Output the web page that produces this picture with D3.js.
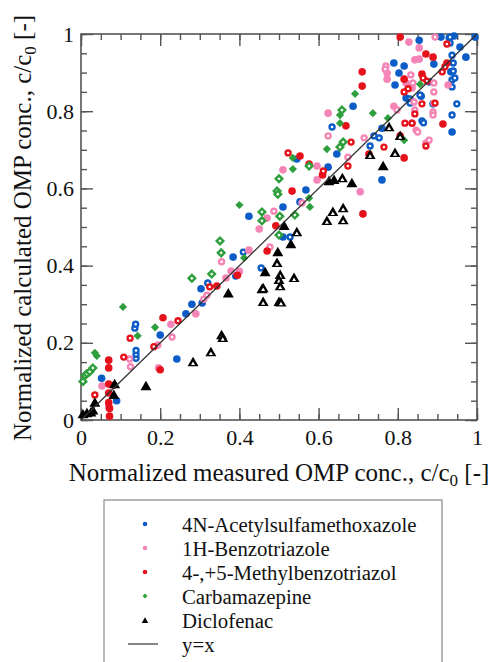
<!DOCTYPE html>
<html>
<head>
<meta charset="utf-8">
<script src="https://cdn.jsdelivr.net/npm/d3@7"></script>
<style>
body { margin: 0; background: #fff; }
svg { display: block; }
text { font-family: "Liberation Serif", "Times New Roman", Times, "Nimbus Roman", "DejaVu Serif", serif; fill: #111; }
</style>
</head>
<body>
<svg width="492" height="662"></svg>
<script>
/* global d3 */

// series names and colours
var seriesNames = ['4N-Acetylsulfamethoxazole', '1H-Benzotriazole', '4-,+5-Methylbenzotriazol', 'Carbamazepine', 'Diclofenac']
var seriesColors = ['#0b5cc6', '#f585b6', '#e5121b', '#2f9e3c', '#000000']
var tickValues = [0, 0.2, 0.4, 0.6, 0.8, 1]

// [measured, calculated, hollow]
var acetyl = [
	[.052,.108,0],[.09,.05,0],[.2,.22,0],[.242,.158,0],[.265,.275,0],[.28,.3,0],[.306,.303,0],[.303,.34,0],
	[.384,.422,0],[.391,.373,0],[.424,.528,0],[.51,.552,0],[.51,.474,0],[.553,.565,0],[.568,.596,0],[.624,.655,0],
	[.545,.676,0],[.646,.689,0],[.687,.813,0],[.76,.622,0],[.76,.756,0],[.79,.925,0],[.816,.917,0],[.803,.899,0],
	[.793,.868,0],[.821,.834,0],[.859,.839,0],[.879,.876,0],[.889,.819,0],[.891,.922,0],[.854,.984,0],[.909,.992,0],
	[.93,.99,0],[.942,.995,0],[.957,.966,0],[.972,.94,0],[.934,.902,0],[.937,.746,0],[.995,.992,0],
	[.136,.238,1],[.138,.248,1],[.139,.16,1],[.139,.17,1],[.139,.18,1],[.32,.355,1],[.41,.435,1],[.455,.394,1],
	[.528,.474,1],[.634,.759,1],[.73,.71,1],[.74,.736,1],[.753,.731,1],[.831,.832,1],[.831,.821,1],[.856,.842,1],
	[.861,.775,1],[.865,.77,1],[.932,.992,1],[.932,.977,1],[.937,.945,1],[.94,.925,1],[.94,.904,1],[.937,.881,1],
	[.944,.886,1],[.937,.863,1],[.949,.819,1],[.937,.79,1]
]

var benzotriazole = [
	[.053,.088,0],[.07,.035,0],[.194,.194,0],[.196,.135,0],[.227,.248,0],[.29,.275,0],[.366,.368,0],[.379,.386,0],
	[.4,.385,0],[.424,.44,0],[.45,.495,0],[.47,.523,0],[.51,.648,0],[.596,.658,0],[.596,.622,0],[.624,.795,0],
	[.705,.591,0],[.773,.899,0],[.79,.813,0],[.773,.883,0],[.821,.873,0],[.836,.769,0],[.836,.86,0],[.843,.933,0],
	[.854,.964,0],[.854,.935,0],[.828,.979,0],[.927,.868,0],
	[.123,.158,1],[.125,.138,1],[.23,.215,1],[.318,.323,1],[.31,.313,1],[.355,.41,1],[.477,.448,1],[.487,.541,1],
	[.558,.562,1],[.624,.736,1],[.674,.681,1],[.715,.731,1],[.77,.917,1],[.768,.909,1],[.798,.803,1],[.833,.894,1],
	[.838,.873,1],[.841,.824,1],[.843,.803,1],[.846,.751,1],[.85,.746,1],[.871,.718,1],[.879,.725,1],[.889,.798,1],
	[.889,.79,1],[.891,.873,1],[.891,.85,1],[.891,.821,1],[.894,.992,1]
]

var methylbenzotriazol = [
	[.07,.155,0],[.07,.135,0],[.07,.093,0],[.07,.07,0],[.07,.045,0],[.072,.03,0],[.072,.01,0],[.083,.09,0],
	[.2,.13,0],[.207,.265,0],[.343,.347,0],[.395,.375,0],[.47,.438,0],[.492,.503,0],[.533,.593,0],[.553,.684,0],
	[.576,.663,0],[.61,.635,0],[.669,.762,0],[.71,.902,0],[.71,.865,0],[.712,.534,0],[.727,.689,0],[.806,.736,0],
	[.816,.883,0],[.816,.679,0],[.806,.992,0],[.861,.896,0],[.871,.948,0],[.889,.94,0],[.924,.925,0],[.914,.767,0],
	[.035,.065,1],[.108,.163,1],[.124,.212,1],[.184,.19,1],[.245,.257,1],[.325,.345,1],[.523,.692,1],[.612,.645,1],
	[.674,.658,1],[.682,.72,1],[.765,.707,1],[.816,.85,1],[.826,.858,1],[.818,.769,1],[.836,.769,1],[.843,.793,1],
	[.861,.819,1],[.864,.886,1],[.874,.878,1],[.871,.71,1],[.894,.821,1],[.912,.902,1],[.919,.915,1],[.924,.974,1]
]

var carbamazepine = [
	[.035,.174,0],[.04,.166,0],[.106,.293,0],[.143,.218,0],[.187,.24,0],[.4,.557,0],[.412,.42,0],[.535,.65,0],
	[.535,.679,0],[.576,.575,0],[.578,.552,0],[.621,.702,0],[.654,.79,0],[.654,.769,0],[.692,.845,0],[.737,.795,0],
	[.775,.782,0],[.816,.725,0],[.856,.87,0],
	[.005,.1,1],[.01,.115,1],[.015,.12,1],[.022,.125,1],[.03,.135,1],[.28,.367,1],[.33,.378,1],[.351,.464,1],
	[.354,.433,1],[.457,.539,1],[.457,.516,1],[.5,.625,1],[.495,.593,1],[.497,.585,1],[.502,.528,1],[.54,.531,1],
	[.5,.479,1],[.576,.658,1],[.659,.803,1],[.662,.72,1],[.654,.707,1]
]

var diclofenac = [
	[.005,.015,0],[.015,.018,0],[.025,.02,0],[.03,.025,0],[.035,.045,0],[.085,.093,0],[.083,.065,0],[.164,.088,0],
	[.372,.328,0],[.513,.503,0],[.497,.435,0],[.53,.456,0],[.626,.619,0],[.639,.622,0],[.763,.658,0],[.684,.614,0],
	[.465,.383,0],[.457,.339,0],
	[.283,.15,1],[.328,.176,1],[.355,.22,1],[.358,.213,1],[.495,.407,1],[.503,.376,1],[.5,.363,1],[.538,.368,1],
	[.503,.347,1],[.46,.342,1],[.46,.306,1],[.5,.306,1],[.505,.305,1],[.545,.487,1],[.66,.627,1],[.662,.549,1],
	[.636,.539,1],[.621,.516,1],[.662,.518,1],[.778,.759,1],[.806,.736,1],[.73,.687,1],[.793,.692,1]
]

var seriesData = [acetyl, benzotriazole, methylbenzotriazol, carbamazepine, diclofenac]
var seriesShapes = ['circle', 'circle', 'circle', 'diamond', 'triangle']

/////////////////////////////////////////////////////////////////////////
// frame

var svg = d3.select('svg')
var plot = {left: 81, right: 477, top: 34, bottom: 420}
var serif = '"Liberation Serif", "Times New Roman", Times, "Nimbus Roman", "DejaVu Serif", serif'

var x = d3.scaleLinear().domain([0, 1]).range([plot.left, plot.right])
var y = d3.scaleLinear().domain([0, 1]).range([plot.bottom, plot.top])

var minor = d3.range(0, 1.0001, 0.05)
var fmt = d3.format('~g')
var axisColor = '#555'

function styleAxis(g) {
	g.attr('font-family', null)
	g.select('.domain').remove()
	g.selectAll('line').attr('stroke', axisColor).attr('stroke-width', 1.4)
	g.selectAll('text').attr('font-size', 22).attr('fill', '#111').style('font-family', serif)
}

function addAxis(axis, tx, ty) {
	svg.append('g').attr('transform', 'translate(' + tx + ',' + ty + ')')
		.call(axis).call(styleAxis)
}

// minor ticks all round
addAxis(d3.axisBottom(x).tickValues(minor).tickSize(-6).tickFormat(''), 0, plot.bottom)
addAxis(d3.axisTop(x).tickValues(minor).tickSize(-6).tickFormat(''), 0, plot.top)
addAxis(d3.axisLeft(y).tickValues(minor).tickSize(-6).tickFormat(''), plot.left, 0)
addAxis(d3.axisRight(y).tickValues(minor).tickSize(-6).tickFormat(''), plot.right, 0)

// major ticks
addAxis(d3.axisBottom(x).tickValues(tickValues).tickSize(-12).tickPadding(9).tickFormat(fmt), 0, plot.bottom)
addAxis(d3.axisTop(x).tickValues(tickValues).tickSize(-12).tickFormat(''), 0, plot.top)
addAxis(d3.axisLeft(y).tickValues(tickValues).tickSize(-12).tickPadding(7).tickFormat(fmt), plot.left, 0)
addAxis(d3.axisRight(y).tickValues(tickValues).tickSize(-12).tickFormat(''), plot.right, 0)

svg.append('rect')
	.attr('x', plot.left).attr('y', plot.top)
	.attr('width', plot.right - plot.left).attr('height', plot.bottom - plot.top)
	.attr('fill', 'none').attr('stroke', axisColor).attr('stroke-width', 1.6)

/////////////////////////////////////////////////////////////////////////
// markers

function drawMarker(g, shape, color, hollow, s) {
	if (shape === 'circle') {
		if (hollow) g.append('circle').attr('r', 2.5 * s).attr('fill', '#fff').attr('stroke', color).attr('stroke-width', 2.4 * s)
		else g.append('circle').attr('r', 3.8 * s).attr('fill', color)
	} else if (shape === 'diamond') {
		var sq = d3.symbol().type(d3.symbolSquare)
		if (hollow) g.append('path').attr('d', sq.size(22 * s * s)()).attr('transform', 'rotate(45)')
			.attr('fill', '#fff').attr('stroke', color).attr('stroke-width', 2.4 * s)
		else g.append('path').attr('d', sq.size(34 * s * s)()).attr('transform', 'rotate(45)').attr('fill', color)
	} else {
		var tri = d3.symbol().type(d3.symbolTriangle)
		g.append('path').attr('d', tri.size(52 * s * s)()).attr('transform', 'translate(0,1)').attr('fill', color)
		if (hollow) g.append('path').attr('d', tri.size(7)()).attr('transform', 'translate(0,1.8)').attr('fill', '#fff')
	}
}

var points = svg.append('g')
seriesData.forEach(function(data, i) {
	data.forEach(function(d) {
		var g = points.append('g').attr('transform', 'translate(' + x(d[0]) + ',' + y(d[1]) + ')')
		drawMarker(g, seriesShapes[i], seriesColors[i], d[2] === 1, 1)
	})
})

// y = x
svg.append('line')
	.attr('x1', x(0)).attr('y1', y(0)).attr('x2', x(1)).attr('y2', y(1))
	.attr('stroke', '#333').attr('stroke-width', 1.3)

/////////////////////////////////////////////////////////////////////////
// axis titles

var xt = svg.append('text').attr('x', 279).attr('y', 481).attr('text-anchor', 'middle').attr('font-size', 25)
xt.append('tspan').text('Normalized measured OMP conc., c/c')
xt.append('tspan').attr('font-size', 17).attr('dy', 5).text('0')
xt.append('tspan').attr('dy', -5).text(' [-]')

var yt = svg.append('text').attr('transform', 'translate(31,228) rotate(-90)').attr('text-anchor', 'middle').attr('font-size', 25)
yt.append('tspan').text('Normalized calculated OMP conc., c/c')
yt.append('tspan').attr('font-size', 17).attr('dy', 5).text('0')
yt.append('tspan').attr('dy', -5).text(' [-]')

/////////////////////////////////////////////////////////////////////////
// legend

svg.append('rect').attr('x', 104).attr('y', 500).attr('width', 338).attr('height', 180)
	.attr('fill', '#fff').attr('stroke', '#888').attr('stroke-width', 1.2)

var legend = svg.append('g')
seriesNames.forEach(function(name, i) {
	var ly = 525 + i * 24
	var g = legend.append('g').attr('transform', 'translate(145,' + (ly - 1) + ')')
	drawMarker(g, seriesShapes[i], seriesColors[i], false, 0.6)
	legend.append('text').attr('x', 182).attr('y', ly).attr('dy', '0.35em').attr('font-size', 20.8).text(name)
})
legend.append('line').attr('x1', 128).attr('x2', 158).attr('y1', 644).attr('y2', 644)
	.attr('stroke', '#333').attr('stroke-width', 1.2)
legend.append('text').attr('x', 182).attr('y', 645).attr('dy', '0.35em').attr('font-size', 20.8).text('y=x')
</script>
</body>
</html>
